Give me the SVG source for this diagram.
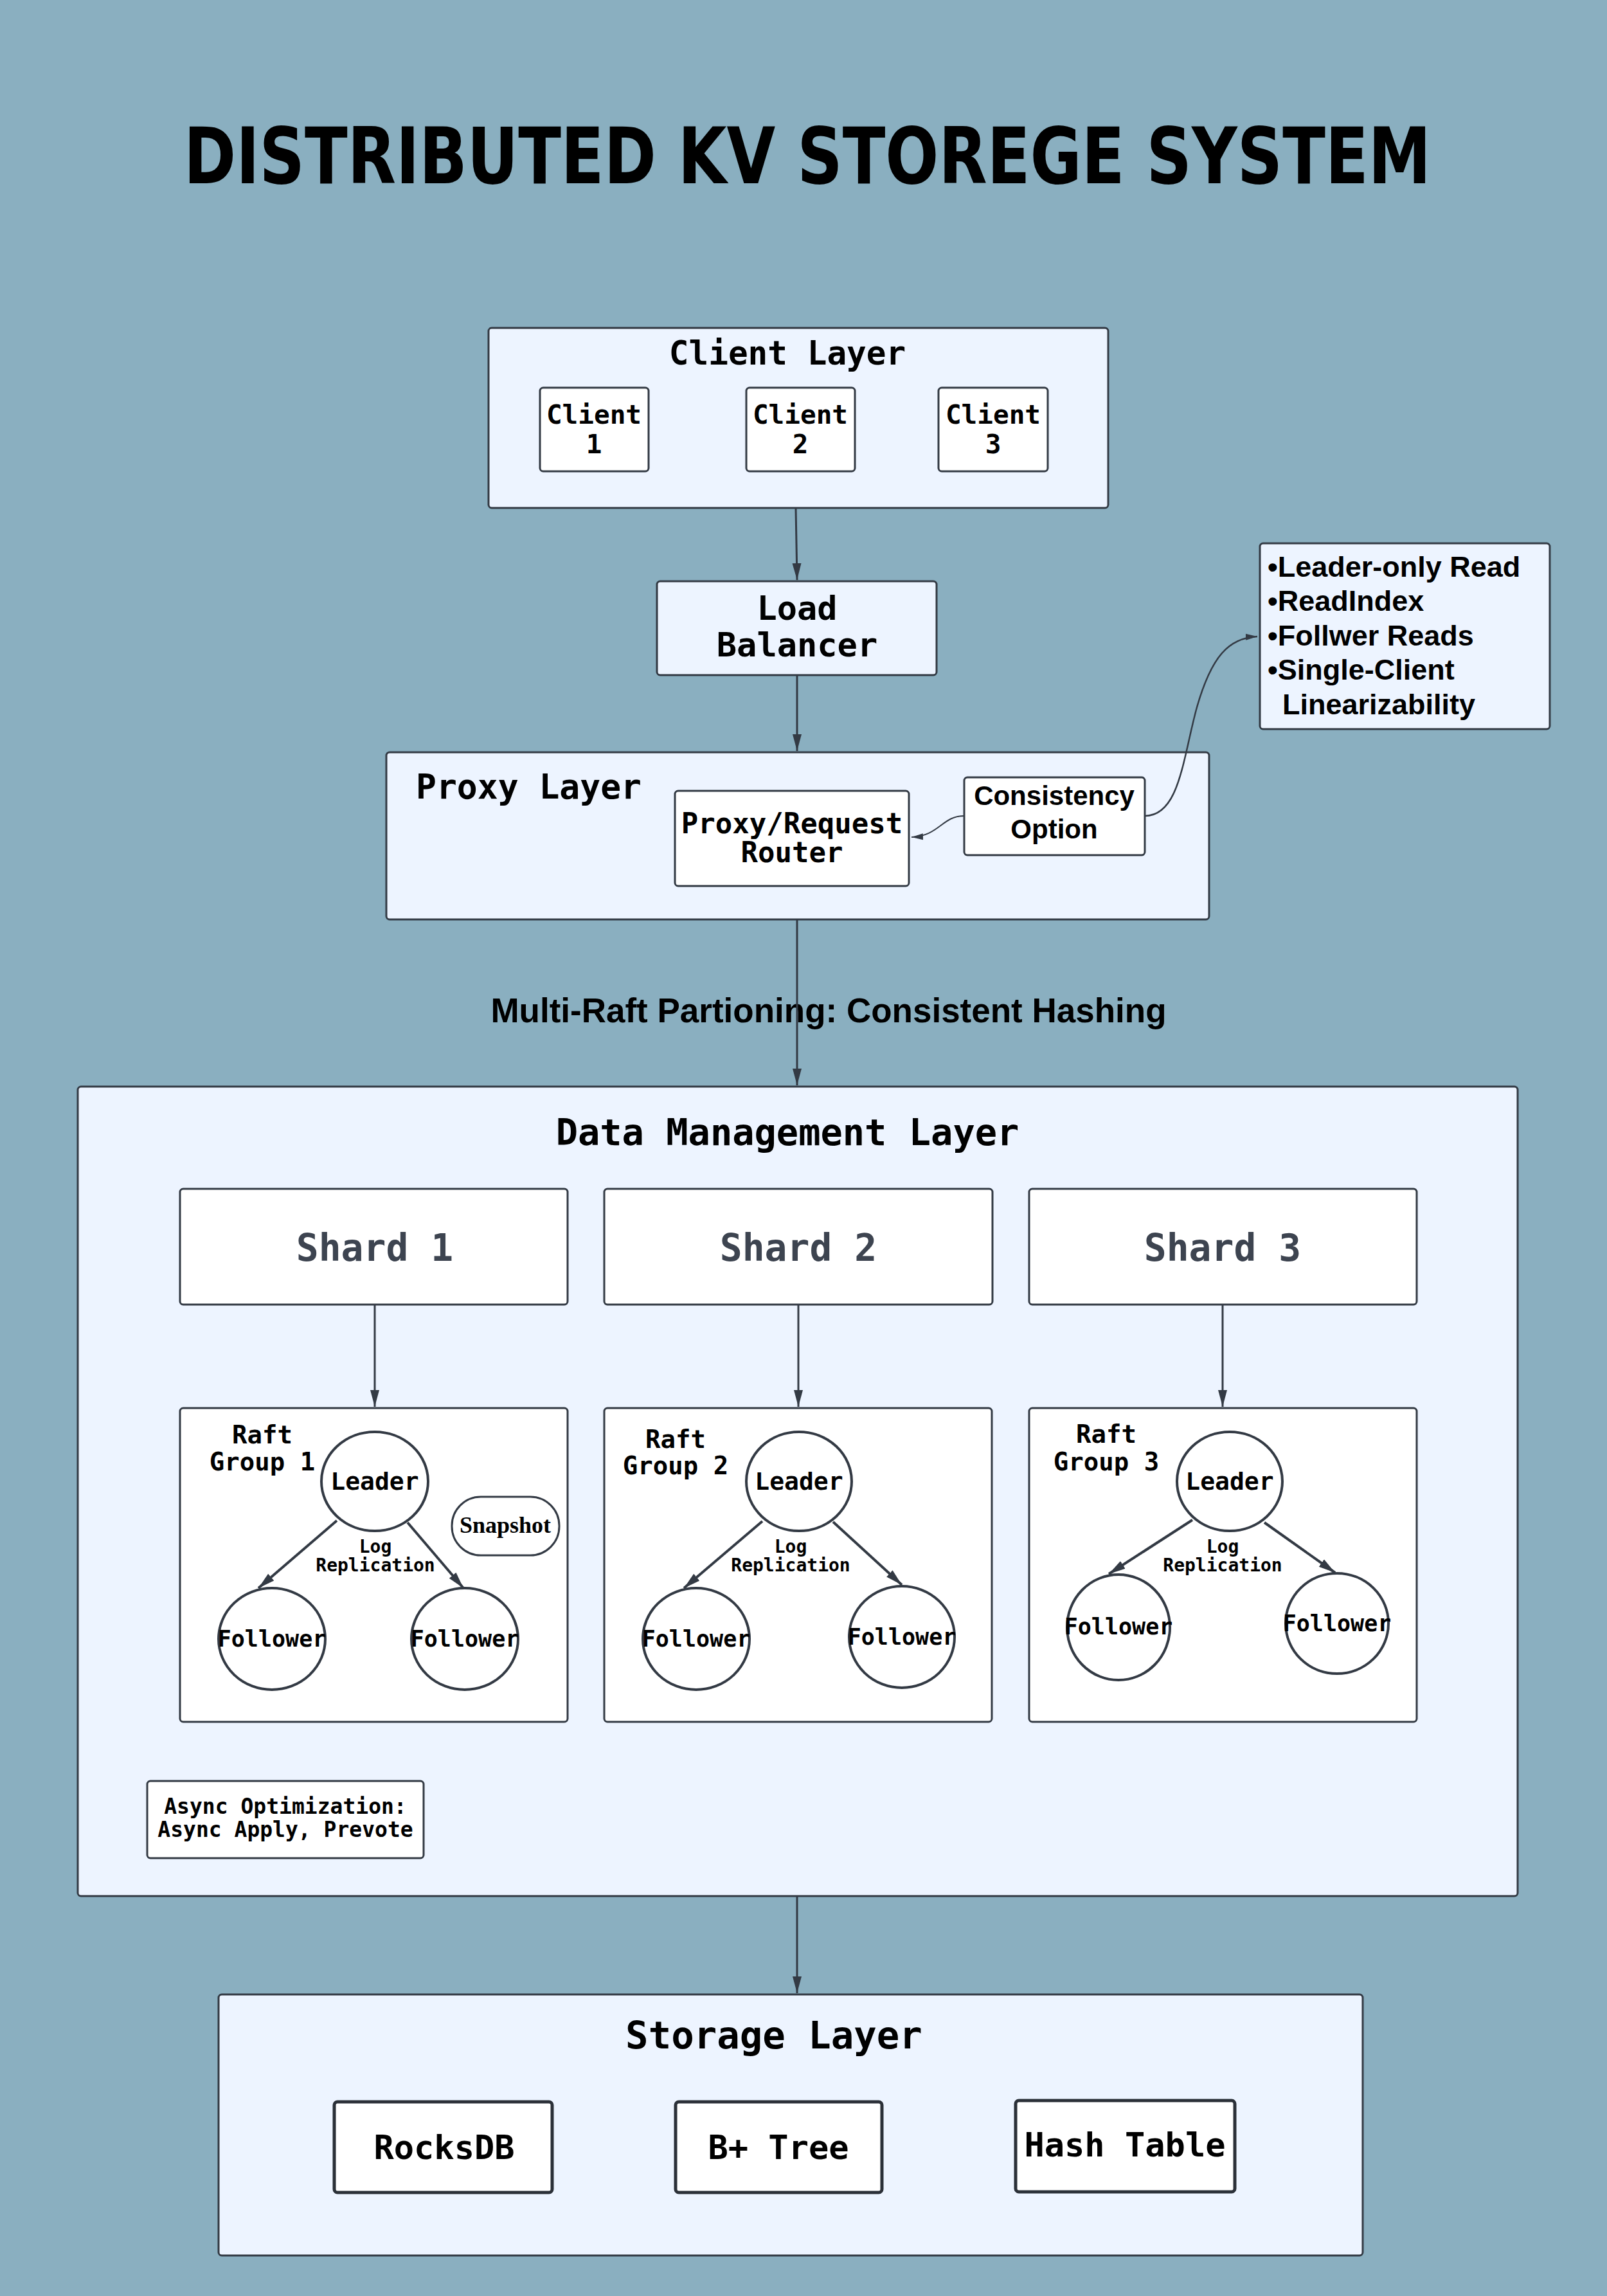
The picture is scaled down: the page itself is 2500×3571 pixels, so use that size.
<svg xmlns="http://www.w3.org/2000/svg" width="2500" height="3571" viewBox="0 0 2500 3571">
<defs>
<marker id="ah" markerUnits="userSpaceOnUse" markerWidth="28" markerHeight="16" refX="26" refY="8" orient="auto">
<path d="M0,1 L26,8 L0,15 Z" fill="#333a44"/>
</marker>
<marker id="ahs" markerUnits="userSpaceOnUse" markerWidth="20" markerHeight="12" refX="18" refY="6" orient="auto">
<path d="M0,1 L18,6 L0,11 Z" fill="#333a44"/>
</marker>
<style>
.layer{fill:#edf4ff;stroke:#333a44;stroke-width:3}
.box{fill:#ffffff;stroke:#333a44;stroke-width:3}
.thick{fill:#ffffff;stroke:#2b3038;stroke-width:5}
.node{fill:#ffffff;stroke:#333a44;stroke-width:4}
.mono{font-family:"DejaVu Sans Mono","Liberation Mono",monospace;font-weight:bold;fill:#000}
.sans{font-family:"Liberation Sans",Arial,sans-serif;font-weight:bold;fill:#000}
.c{text-anchor:middle}
.edge{fill:none;stroke:#333a44;stroke-width:3}
</style>
</defs>
<rect x="0" y="0" width="2500" height="3571" fill="#8aafc0"/>

<g id="title">
<text x="1256" y="285" text-anchor="middle" font-family="'DejaVu Sans Condensed','DejaVu Sans',sans-serif" font-weight="900" font-size="122" textLength="1940" lengthAdjust="spacingAndGlyphs" fill="#000">DISTRIBUTED KV STOREGE SYSTEM</text>
</g>

<g id="client-layer">
<rect class="layer" x="760" y="510" width="964" height="280" rx="5"/>
<text class="mono c" x="1225" y="567" font-size="51">Client Layer</text>
</g>
<g id="client1">
<rect class="box" x="840" y="603" width="169" height="130" rx="5"/>
<text class="mono c" x="924" y="659" font-size="41">Client</text>
<text class="mono c" x="924" y="705" font-size="41">1</text>
</g>
<g id="client2">
<rect class="box" x="1161" y="603" width="169" height="130" rx="5"/>
<text class="mono c" x="1245" y="659" font-size="41">Client</text>
<text class="mono c" x="1245" y="705" font-size="41">2</text>
</g>
<g id="client3">
<rect class="box" x="1460" y="603" width="170" height="130" rx="5"/>
<text class="mono c" x="1545" y="659" font-size="41">Client</text>
<text class="mono c" x="1545" y="705" font-size="41">3</text>
</g>

<g id="load-balancer">
<rect class="layer" x="1022" y="904" width="435" height="146" rx="5"/>
<text class="mono c" x="1240" y="964" font-size="52">Load</text>
<text class="mono c" x="1240" y="1021" font-size="52">Balancer</text>
</g>

<g id="proxy-layer">
<rect class="layer" x="601" y="1170" width="1280" height="260" rx="5"/>
<text class="mono" x="647" y="1242" font-size="53">Proxy Layer</text>
</g>
<g id="proxy-router">
<rect class="box" x="1050" y="1230" width="364" height="148" rx="5"/>
<text class="mono c" x="1232" y="1296" font-size="44">Proxy/Request</text>
<text class="mono c" x="1232" y="1341" font-size="44">Router</text>
</g>
<g id="consistency-option">
<rect class="box" x="1500" y="1209" width="281" height="121" rx="5"/>
<text class="sans c" x="1640" y="1252" font-size="42">Consistency</text>
<text class="sans c" x="1640" y="1304" font-size="42">Option</text>
</g>

<g id="read-options">
<rect class="layer" x="1960" y="845" width="451" height="289" rx="5"/>
<text class="sans" x="1972" y="897" font-size="45">•Leader-only Read</text>
<text class="sans" x="1972" y="950" font-size="45">•ReadIndex</text>
<text class="sans" x="1972" y="1004" font-size="45">•Follwer Reads</text>
<text class="sans" x="1972" y="1057" font-size="45">•Single-Client</text>
<text class="sans" x="1995" y="1111" font-size="45">Linearizability</text>
</g>

<g id="partition-label">
<text class="sans c" x="1289" y="1590" font-size="53">Multi-Raft Partioning: Consistent Hashing</text>
</g>

<g id="data-management-layer">
<rect class="layer" x="121" y="1690" width="2240" height="1259" rx="5"/>
<text class="mono c" x="1225" y="1781" font-size="57">Data Management Layer</text>
</g>

<g id="shard1">
<rect class="box" x="280" y="1849" width="603" height="180" rx="5"/>
<text class="mono c" x="583" y="1961" font-size="58" style="fill:#3d4450">Shard 1</text>
</g>
<g id="shard2">
<rect class="box" x="940" y="1849" width="604" height="180" rx="5"/>
<text class="mono c" x="1242" y="1961" font-size="58" style="fill:#3d4450">Shard 2</text>
</g>
<g id="shard3">
<rect class="box" x="1601" y="1849" width="603" height="180" rx="5"/>
<text class="mono c" x="1902" y="1961" font-size="58" style="fill:#3d4450">Shard 3</text>
</g>

<g id="raft-group1">
<rect class="box" x="280" y="2190" width="603" height="488" rx="5"/>
<text class="mono c" x="408" y="2245" font-size="39">Raft</text>
<text class="mono c" x="408" y="2287" font-size="39">Group 1</text>
</g>
<g id="rg1-leader">
<ellipse class="node" cx="583" cy="2304" rx="83" ry="77"/>
<text class="mono c" x="583" y="2317" font-size="38">Leader</text>
</g>
<g id="rg1-follower-a">
<ellipse class="node" cx="423" cy="2549" rx="83" ry="79"/>
<text class="mono c" x="423" y="2561" font-size="35">Follower</text>
</g>
<g id="rg1-follower-b">
<ellipse class="node" cx="723" cy="2549" rx="83" ry="79"/>
<text class="mono c" x="723" y="2561" font-size="35">Follower</text>
</g>
<g id="rg1-snapshot">
<rect class="node" x="703" y="2328" width="167" height="91" rx="45" style="stroke-width:3"/>
<text x="786" y="2384" text-anchor="middle" font-family="'Liberation Serif','Times New Roman',serif" font-weight="bold" font-size="36" fill="#000">Snapshot</text>
</g>

<g id="raft-group2">
<rect class="box" x="940" y="2190" width="603" height="488" rx="5"/>
<text class="mono c" x="1051" y="2252" font-size="39">Raft</text>
<text class="mono c" x="1051" y="2293" font-size="39">Group 2</text>
</g>
<g id="rg2-leader">
<ellipse class="node" cx="1243" cy="2304" rx="82" ry="77"/>
<text class="mono c" x="1243" y="2317" font-size="38">Leader</text>
</g>
<g id="rg2-follower-a">
<ellipse class="node" cx="1083" cy="2549" rx="83" ry="79"/>
<text class="mono c" x="1083" y="2561" font-size="35">Follower</text>
</g>
<g id="rg2-follower-b">
<ellipse class="node" cx="1403" cy="2546" rx="82" ry="79"/>
<text class="mono c" x="1403" y="2558" font-size="35">Follower</text>
</g>

<g id="raft-group3">
<rect class="box" x="1601" y="2190" width="603" height="488" rx="5"/>
<text class="mono c" x="1721" y="2244" font-size="39">Raft</text>
<text class="mono c" x="1721" y="2287" font-size="39">Group 3</text>
</g>
<g id="rg3-leader">
<ellipse class="node" cx="1913" cy="2304" rx="82" ry="77"/>
<text class="mono c" x="1913" y="2317" font-size="38">Leader</text>
</g>
<g id="rg3-follower-a">
<ellipse class="node" cx="1740" cy="2531" rx="80" ry="82"/>
<text class="mono c" x="1740" y="2542" font-size="35">Follower</text>
</g>
<g id="rg3-follower-b">
<ellipse class="node" cx="2080" cy="2525" rx="80" ry="78"/>
<text class="mono c" x="2080" y="2537" font-size="35">Follower</text>
</g>

<g id="async-optimization">
<rect class="box" x="229" y="2770" width="430" height="120" rx="5"/>
<text class="mono c" x="444" y="2821" font-size="33">Async Optimization:</text>
<text class="mono c" x="444" y="2857" font-size="33">Async Apply, Prevote</text>
</g>

<g id="storage-layer">
<rect class="layer" x="340" y="3102" width="1780" height="406" rx="5"/>
<text class="mono c" x="1204" y="3186" font-size="59">Storage Layer</text>
</g>
<g id="rocksdb">
<rect class="thick" x="520" y="3269" width="339" height="141" rx="5"/>
<text class="mono c" x="691" y="3358" font-size="52">RocksDB</text>
</g>
<g id="bplus-tree">
<rect class="thick" x="1051" y="3269" width="321" height="141" rx="5"/>
<text class="mono c" x="1211" y="3358" font-size="52">B+ Tree</text>
</g>
<g id="hash-table">
<rect class="thick" x="1580" y="3267" width="341" height="142" rx="5"/>
<text class="mono c" x="1750" y="3354" font-size="52">Hash Table</text>
</g>

<g id="connectors">
<line class="edge" x1="1238" y1="790" x2="1240" y2="902" marker-end="url(#ah)"/>
<line class="edge" x1="1240" y1="1050" x2="1240" y2="1168" marker-end="url(#ah)"/>
<line class="edge" x1="1240" y1="1430" x2="1240" y2="1688" marker-end="url(#ah)"/>
<path class="edge" d="M1500,1269 C1465,1269 1462,1300 1418,1302" marker-end="url(#ahs)" style="stroke-width:2"/>
<path class="edge" d="M1781,1269 C1835,1269 1840,1180 1862,1100 C1885,1020 1912,992 1956,990" marker-end="url(#ahs)" style="stroke-width:2.5"/>
<line class="edge" x1="583" y1="2029" x2="583" y2="2188" marker-end="url(#ah)"/>
<line class="edge" x1="1242" y1="2029" x2="1242" y2="2188" marker-end="url(#ah)"/>
<line class="edge" x1="1902" y1="2029" x2="1902" y2="2188" marker-end="url(#ah)"/>
<line class="edge" x1="524" y1="2365" x2="402" y2="2470" marker-end="url(#ah)" style="stroke-width:4"/>
<line class="edge" x1="634" y1="2368" x2="721" y2="2470" marker-end="url(#ah)" style="stroke-width:4"/>
<line class="edge" x1="1186" y1="2366" x2="1064" y2="2470" marker-end="url(#ah)" style="stroke-width:4"/>
<line class="edge" x1="1296" y1="2367" x2="1403" y2="2465" marker-end="url(#ah)" style="stroke-width:4"/>
<line class="edge" x1="1855" y1="2364" x2="1725" y2="2448" marker-end="url(#ah)" style="stroke-width:4"/>
<line class="edge" x1="1967" y1="2368" x2="2077" y2="2446" marker-end="url(#ah)" style="stroke-width:4"/>
<line class="edge" x1="1240" y1="2949" x2="1240" y2="3100" marker-end="url(#ah)"/>
<text class="mono c" x="584" y="2415" font-size="28">Log</text>
<text class="mono c" x="584" y="2444" font-size="28">Replication</text>
<text class="mono c" x="1230" y="2415" font-size="28">Log</text>
<text class="mono c" x="1230" y="2444" font-size="28">Replication</text>
<text class="mono c" x="1902" y="2415" font-size="28">Log</text>
<text class="mono c" x="1902" y="2444" font-size="28">Replication</text>
</g>
</svg>
